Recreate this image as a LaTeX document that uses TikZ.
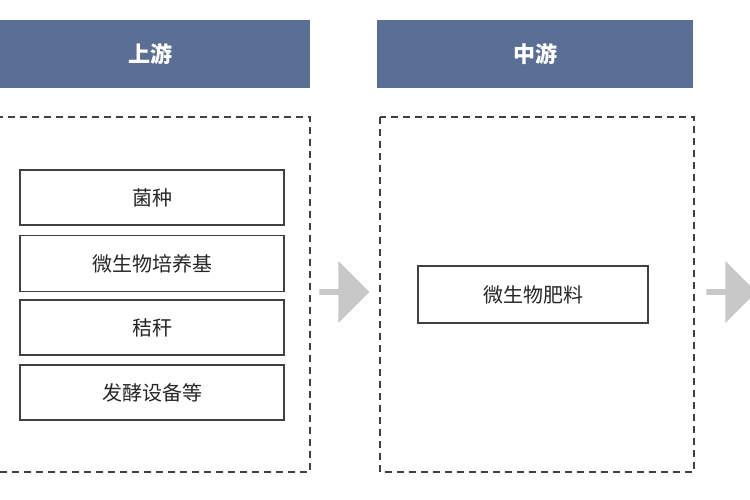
\documentclass[tikz,border=0pt]{standalone}
\usepackage{fontspec}
\newfontfamily\cjk{Noto Sans CJK SC}
\usetikzlibrary{shapes.arrows}
\definecolor{hdr}{HTML}{5B6E93}
\definecolor{arr}{HTML}{C8C8C8}
\begin{document}
\begin{tikzpicture}[x=1pt,y=-1pt,
  hbox/.style={fill=hdr,draw=none,text=white,font=\cjk\fontsize{22}{24}\selectfont\bfseries},
  dbox/.style={draw=black!75,dashed,line width=1.6pt,dash pattern=on 7pt off 5pt},
  ibox/.style={draw=black!75,line width=1.3pt,fill=white,font=\cjk\fontsize{20}{22}\selectfont,text=black!85},
  garrow/.style={single arrow,fill=arr,draw=none,minimum height=50pt,minimum width=62pt,single arrow head extend=2pt,inner sep=0pt}]
\useasboundingbox (0,0) rectangle (750,500);
\fill[white] (0,0) rectangle (750,500);
\node[hbox,minimum width=320pt,minimum height=68pt] (h1) at (150,54) {上游};
\node[hbox,minimum width=316pt,minimum height=68pt] (h2) at (535,54) {中游};
\draw[dbox] (-5,117) rectangle (310,472);
\draw[dbox] (380,117) rectangle (694,472);
\node[ibox,minimum width=264pt,minimum height=55pt] (a) at (152,197.5) {菌种};
\node[ibox,minimum width=264pt,minimum height=56pt] (b) at (152,263.5) {微生物培养基};
\node[ibox,minimum width=264pt,minimum height=55pt] (c) at (152,327.5) {秸秆};
\node[ibox,minimum width=264pt,minimum height=55pt] (d) at (152,392.5) {发酵设备等};
\node[ibox,minimum width=230pt,minimum height=57pt] (m) at (533,294.5) {微生物肥料};
\node[garrow] (r1) at (343,292) {};
\node[garrow] (r2) at (730,292) {};
\end{tikzpicture}
\end{document}
